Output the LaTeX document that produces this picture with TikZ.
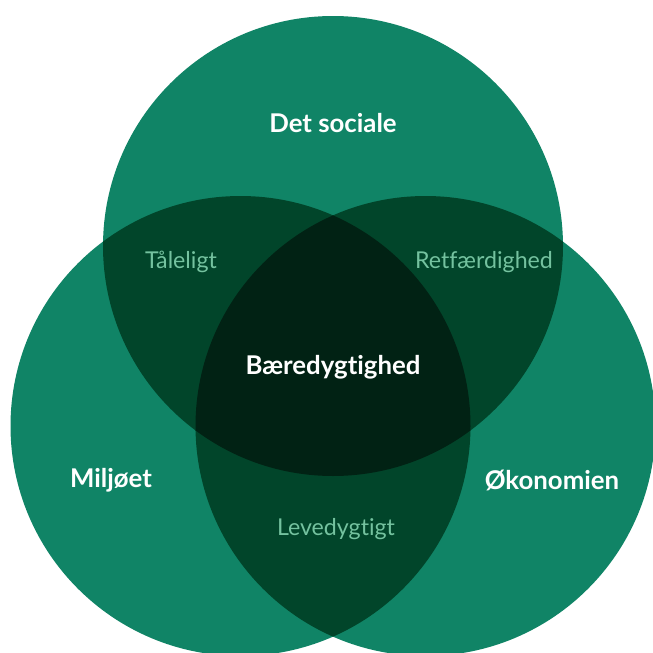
\documentclass[tikz,border=0pt]{standalone}
\usepackage{fontspec}
\setmainfont[Ligatures=NoCommon]{Lato}
\definecolor{vbase}{HTML}{108466}
\definecolor{vdark}{HTML}{01452A}
\definecolor{vdarkest}{HTML}{012214}
\definecolor{vsub}{HTML}{74C29F}
\tikzset{
  mainlbl/.style={text=white,font=\fontsize{25.8}{30}\selectfont\bfseries,inner sep=0pt},
  sublbl/.style={text=vsub,font=\fontsize{23.2}{28}\selectfont,inner sep=0pt},
}
\begin{document}
\begin{tikzpicture}[x=1pt,y=-1pt]
\useasboundingbox (0,0) rectangle (653,653);
\coordinate (cT) at (333,246);
\coordinate (cL) at (240.5,426);
\coordinate (cR) at (425.5,426);
\fill[vbase] (cT) circle (230pt);
\fill[vbase] (cL) circle (230pt);
\fill[vbase] (cR) circle (230pt);
\begin{scope}
  \clip (cT) circle (230pt);
  \fill[vdark] (cL) circle (230pt);
  \fill[vdark] (cR) circle (230pt);
\end{scope}
\begin{scope}
  \clip (cL) circle (230pt);
  \fill[vdark] (cR) circle (230pt);
\end{scope}
\begin{scope}
  \clip (cT) circle (230pt);
  \clip (cL) circle (230pt);
  \fill[vdarkest] (cR) circle (230pt);
\end{scope}
\node[mainlbl] (social) at (333,123) {Det sociale};
\node[mainlbl] (center) at (333,367) {Bæredygtighed};
\node[mainlbl] (miljo) at (111,480.5) {Miljøet};
\node[mainlbl] (oko) at (552,480.5) {Økonomien};
\node[sublbl] (tal) at (181,262) {Tåleligt};
\node[sublbl] (ret) at (484,262) {Retfærdighed};
\node[sublbl] (lev) at (336,529) {Levedygtigt};
\end{tikzpicture}
\end{document}
